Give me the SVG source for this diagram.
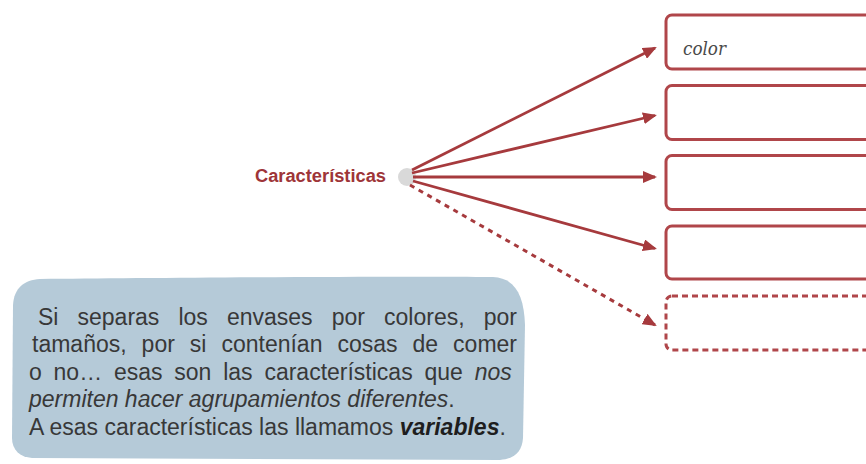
<svg xmlns="http://www.w3.org/2000/svg" width="866" height="464" viewBox="0 0 866 464">
  <style>
    .box { fill: #ffffff; stroke: #b0464a; stroke-width: 3; }
    .dashbox { fill: #ffffff; stroke: #b0464a; stroke-width: 3; stroke-dasharray: 6 4; }
    .conn { fill: none; stroke: #a63a3d; stroke-width: 2.8; marker-end: url(#arrow); }
    .dash { stroke-dasharray: 5 5; stroke-width: 3; }
    .body { font-family: "Liberation Sans", Arial, sans-serif; font-size: 23px; fill: #383838; }
    .label { font-family: "Liberation Sans", Arial, sans-serif; font-size: 17.5px; font-weight: bold; fill: #9e3538; }
    .hand { font-family: "DejaVu Serif", serif; font-style: italic; font-size: 19px; fill: #4a4a4a; }
  </style>
  <defs>
    <marker id="arrow" viewBox="0 0 14 12" refX="12" refY="6" markerWidth="14" markerHeight="12" markerUnits="userSpaceOnUse" orient="auto">
      <path d="M0,0 L14,6 L0,12 z" fill="#a63a3d"/>
    </marker>
  </defs>

  <rect width="866" height="464" fill="#ffffff"/>

  <g id="callout">
    <path d="M40,279 C150,278 380,276 493,277 C515,278 524,295 525,325 L523,438 C522,452 514,459 500,460 L32,458 C20,457 12,450 12,438 L13,305 C14,288 24,280 40,279 Z" fill="#b5cad8"/>
    <text class="body" x="38" y="325" word-spacing="12.7">Si separas los envases por colores, por</text>
    <text class="body" x="32" y="352" word-spacing="8.6">tamaños, por si contenían cosas de comer</text>
    <text class="body" x="29" y="380" word-spacing="5.4">o no… esas son las características que <tspan font-style="italic">nos</tspan></text>
    <text class="body" x="29" y="407"><tspan font-style="italic">permiten hacer agrupamientos diferentes</tspan>.</text>
    <text class="body" x="29" y="435">A esas características las llamamos <tspan font-weight="bold" font-style="italic" fill="#1e1e1e">variables</tspan>.</text>
  </g>

  <g id="caracteristicas">
    <text class="label" x="255" y="182" textLength="131" lengthAdjust="spacingAndGlyphs">Características</text>
    <circle cx="407" cy="177" r="9" fill="#d9d9d9"/>
  </g>

  <g id="connectors">
    <line class="conn" x1="412" y1="170" x2="655" y2="48"/>
    <line class="conn" x1="412" y1="173" x2="655" y2="115.5"/>
    <line class="conn" x1="413" y1="177" x2="655" y2="177"/>
    <line class="conn" x1="413" y1="181" x2="655" y2="248.5"/>
    <line class="conn dash" x1="410" y1="185" x2="655" y2="325"/>
  </g>

  <g id="box1">
    <rect class="box" x="666" y="15" width="240" height="54" rx="6"/>
    <text class="hand" x="683" y="55" textLength="43" lengthAdjust="spacingAndGlyphs">color</text>
  </g>
  <g id="box2">
    <rect class="box" x="666" y="85.5" width="240" height="54" rx="6"/>
  </g>
  <g id="box3">
    <rect class="box" x="666" y="155.5" width="240" height="54" rx="6"/>
  </g>
  <g id="box4">
    <rect class="box" x="666" y="226" width="240" height="53" rx="6"/>
  </g>
  <g id="box5">
    <rect class="dashbox" x="666" y="296" width="240" height="54" rx="6"/>
  </g>
</svg>
